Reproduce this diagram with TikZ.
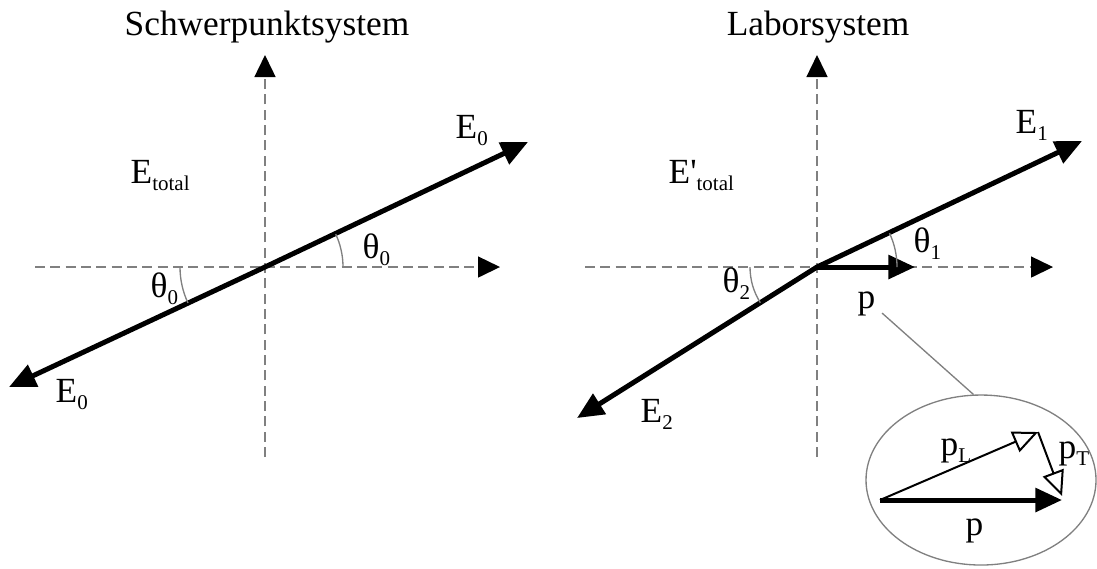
\documentclass[tikz,border=0pt]{standalone}
\usepackage{fontspec}
\setmainfont{Liberation Serif}[Ligatures=TeXOff]
\usetikzlibrary{arrows.meta, positioning, shapes.geometric}

\newcommand{\lsub}[1]{\raisebox{-2.2pt}{\fontsize{6.3}{7}\selectfont #1}}

\tikzset{
  axis/.style={gray, line width=0.45pt, dash pattern=on 3pt off 1.6pt,
    -{Triangle[length=6.6pt,width=6.3pt,black]}},
  vec/.style={line width=1.5pt, -{Triangle[length=8pt,width=7pt]}},
  vecboth/.style={line width=1.5pt,
    {Triangle[length=8pt,width=7pt]}-{Triangle[length=8pt,width=7pt]}},
  comp/.style={line width=0.6pt, -{Triangle[open,length=7.5pt,width=6.6pt,fill=white]}},
  anglearc/.style={gray, line width=0.4pt},
  leader/.style={gray, line width=0.4pt},
  title/.style={inner sep=0pt, anchor=base},
  lbl/.style={inner sep=0pt, anchor=base west}
}

\begin{document}
\begin{tikzpicture}[x=0.3pt, y=-0.3pt, font=\fontsize{10.6}{12.7}\selectfont]
  \useasboundingbox (0,0) rectangle (1097,568);
  % Schwerpunktsystem (left)
  \begin{scope}
    \node[title] (cmtitle) at (267,35) {Schwerpunktsystem};
    \coordinate (cmO) at (265,267);
    \coordinate (cmL) at (35,267);
    \coordinate (cmR) at (500,267);
    \coordinate (cmB) at (265,457);
    \coordinate (cmT) at (265,55);
    \draw[axis] (cmL) -- (cmR);
    \draw[axis] (cmB) -- (cmT);
    \coordinate (cmA) at (9,387);
    \coordinate (cmC) at (528,142);
    \draw[vecboth] (cmA) -- (cmO) -- (cmC);
    \draw[anglearc] (343,267) arc[start angle=0, end angle=-25, radius=78];
    \draw[anglearc] (180,267) arc[start angle=180, end angle=155, radius=85];
    \node[lbl] (cmtot) at (130,183) {E\lsub{total}};
    \node[lbl] (cmEa) at (455,138) {E\lsub{0}};
    \node[lbl] (cmEb) at (55,402) {E\lsub{0}};
    \node[lbl] (cmtha) at (362,258) {θ\lsub{0}};
    \node[lbl] (cmthb) at (150,297) {θ\lsub{0}};
  \end{scope}
  % Laborsystem (right)
  \begin{scope}[shift={(552,0)}]
    \node[title] (labtitle) at (266,35) {Laborsystem};
    \coordinate (labO) at (265,267);
    \coordinate (labL) at (33,267);
    \coordinate (labR) at (501,267);
    \coordinate (labB) at (265,457);
    \coordinate (labT) at (265,55);
    \draw[axis] (labL) -- (labR);
    \draw[axis] (labB) -- (labT);
    \coordinate (labA) at (25,418);
    \coordinate (labC) at (530,141);
    \coordinate (labP) at (363,267);
    \draw[vecboth] (labA) -- (labO) -- (labC);
    \draw[vec] (labO) -- (labP);
    \draw[anglearc] (345,267) arc[start angle=0, end angle=-25, radius=80];
    \draw[anglearc] (198,267) arc[start angle=180, end angle=147.8, radius=67];
    \node[lbl] (labtot) at (116,183) {E'\lsub{total}};
    \node[lbl] (labEa) at (463,133) {E\lsub{1}};
    \node[lbl] (labEb) at (88,422) {E\lsub{2}};
    \node[lbl] (labtha) at (361,252) {θ\lsub{1}};
    \node[lbl] (labthb) at (170,292) {θ\lsub{2}};
    \node[lbl] (labp) at (305,308) {p};
    % zoomed decomposition of p
    \node[ellipse, draw=gray, line width=0.4pt, inner sep=0pt,
      minimum width=69pt, minimum height=51pt] (zoomell) at (429,480) {};
    \coordinate (pfoot) at (330,313);
    \draw[leader] (pfoot) -- (zoomell.95);
    \coordinate (pstart) at (328,500);
    \coordinate (ptip) at (510,500);
    \coordinate (pLtip) at (486,432);
    \coordinate (pTtip) at (510,496);
    \draw[vec] (pstart) -- (ptip);
    \draw[comp] (pstart) -- (pLtip);
    \draw[comp] (pLtip) -- (pTtip);
    \node[lbl] (pLlab) at (388,455) {p\lsub{L}};
    \node[lbl] (pTlab) at (506,458) {p\lsub{T}};
    \node[lbl] (pbot) at (413,535) {p};
  \end{scope}
\end{tikzpicture}
\end{document}
